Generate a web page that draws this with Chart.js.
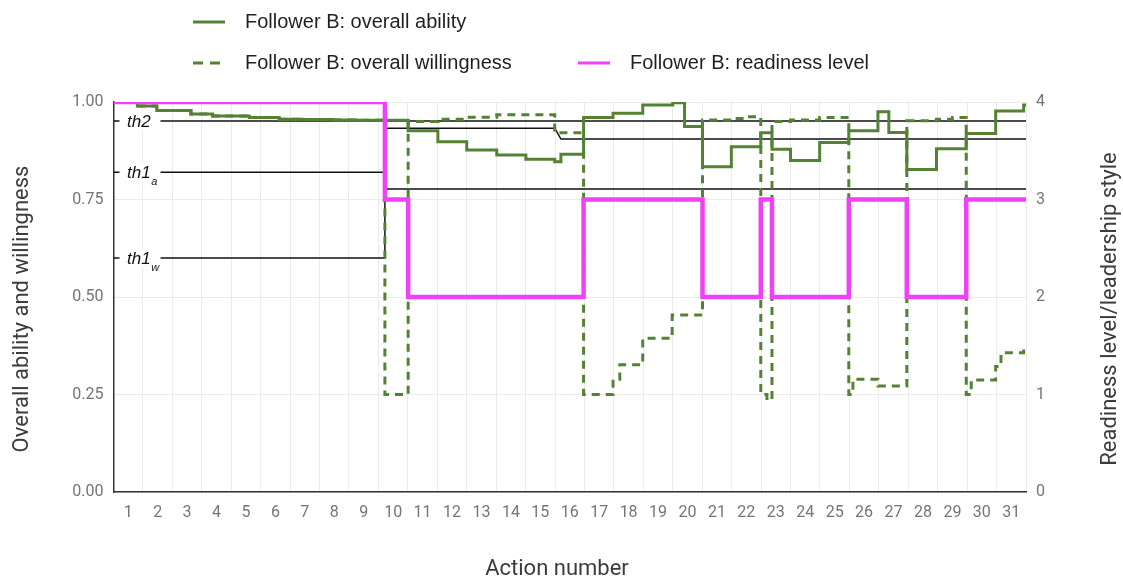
<!DOCTYPE html>
<html>
<head>
<meta charset="utf-8">
<title>Follower B: ability, willingness and readiness</title>
<script src="https://cdn.jsdelivr.net/npm/chart.js@4.4.1/dist/chart.umd.min.js"></script>
<style>
  html, body { margin: 0; padding: 0; background: #fff; }
  #wrap { width: 1123px; height: 578px; }
</style>
</head>
<body>
<div id="wrap"><canvas id="chart" width="1123" height="578"></canvas></div>
<script>
// action numbers on the x axis
const actionLabels = [1, 2, 3, 4, 5, 6, 7, 8, 9, 10, 11, 12, 13, 14, 15, 16, 17, 18, 19, 20, 21, 22, 23, 24, 25, 26, 27, 28, 29, 30, 31];
const leftTicks = [0, 0.25, 0.5, 0.75, 1];
const rightTicks = [0, 1, 2, 3, 4];

// Follower B: overall ability (x = where each step starts)
const abilityX = [0.5, 1.31, 1.97, 3.13, 3.87, 5.11, 6.13, 6.94, 7.96, 8.76, 10.51, 11.52, 12.5, 13.52, 14.51, 15.49, 15.7, 16.47, 17.47, 18.48, 19.5, 19.9, 20.51, 21.49, 22.49, 22.87, 23.5, 24.49, 25.48, 26.47, 26.84, 27.45, 28.46, 29.47, 30.47, 31.42, 31.5];
const abilityY = [1.0, 0.99, 0.978, 0.969, 0.964, 0.96, 0.956, 0.955, 0.954, 0.953, 0.926, 0.898, 0.877, 0.864, 0.853, 0.847, 0.866, 0.96, 0.971, 0.992, 0.998, 0.937, 0.834, 0.885, 0.921, 0.879, 0.85, 0.896, 0.926, 0.975, 0.922, 0.827, 0.88, 0.919, 0.977, 0.992, 0.992];

// Follower B: overall willingness
const willingnessX = [0.5, 1.31, 1.97, 3.13, 3.87, 5.11, 6.13, 6.94, 7.96, 8.76, 9.72, 10.51, 11.52, 12.5, 13.52, 15.49, 16.47, 17.47, 17.7, 18.48, 19.48, 20.51, 21.49, 22.0, 22.49, 22.7, 22.87, 23.5, 24.49, 25.48, 25.62, 26.47, 27.45, 28.46, 29.0, 29.47, 29.64, 30.47, 30.65, 31.42, 31.5];
const willingnessY = [1.0, 0.99, 0.978, 0.969, 0.964, 0.96, 0.956, 0.955, 0.954, 0.953, 0.25, 0.95, 0.956, 0.961, 0.967, 0.921, 0.25, 0.289, 0.326, 0.394, 0.454, 0.954, 0.958, 0.962, 0.25, 0.236, 0.95, 0.954, 0.96, 0.25, 0.289, 0.272, 0.952, 0.956, 0.96, 0.25, 0.287, 0.322, 0.357, 0.373, 0.373];

// Follower B: readiness level (right axis)
const readinessX = [0.5, 9.72, 10.51, 16.47, 20.51, 22.49, 22.87, 25.48, 27.45, 29.47, 31.5];
const readinessY = [4, 3, 2, 3, 2, 3, 2, 3, 2, 3, 3];

// thresholds
const th2X = [0.5, 31.5];
const th2Y = [0.951, 0.951];
const th1aX = [0.5, 9.72, 9.72, 15.49, 15.7, 31.5];
const th1aY = [0.82, 0.82, 0.933, 0.933, 0.905, 0.905];
const th1wX = [0.5, 9.72, 9.72, 31.5];
const th1wY = [0.6, 0.6, 0.777, 0.777];

const GREEN = '#548235';
const PINK = '#ef41f5';
const TICK_FONT = { family: 'Roboto', size: 16 };
const TICK_COLOR = '#757575';

function toPoints(xs, ys) {
    return xs.map((x, i) => ({ x: x, y: ys[i] }));
}

function thresholdSet(xs, ys) {
    return {
        label: '',
        data: toPoints(xs, ys),
        yAxisID: 'y',
        borderColor: '#111',
        borderWidth: 1.5,
        pointRadius: 0,
        tension: 0,
        fill: false
    };
}

// legend, axis titles and threshold labels
const overlay = {
    id: 'overlay',
    afterDatasetsDraw(chart) {
        const ctx = chart.ctx;
        const y = chart.scales.y;
        const left = chart.chartArea.left;
        const marks = [
            { v: th2Y[0], main: 'th2', sub: '' },
            { v: th1aY[0], main: 'th1', sub: 'a' },
            { v: th1wY[0], main: 'th1', sub: 'w' }
        ];
        ctx.save();
        marks.forEach(m => {
            const py = y.getPixelForValue(m.v);
            ctx.fillStyle = '#fff';
            ctx.fillRect(left + 6, py - 9, 41, 18);
            ctx.fillStyle = '#111';
            ctx.textBaseline = 'middle';
            ctx.font = 'italic 17px "Liberation Sans", Arial, sans-serif';
            ctx.fillText(m.main, left + 13.5, py + 1);
            if (m.sub) {
                const w = ctx.measureText(m.main).width;
                ctx.font = 'italic 11px "Liberation Sans", Arial, sans-serif';
                ctx.fillText(m.sub, left + 14 + w, py + 10);
            }
        });
        ctx.restore();
    },
    afterDraw(chart) {
        const ctx = chart.ctx;
        const ds = chart.data.datasets;
        const items = [
            { d: ds[1], x: 193, y: 22, dash: [] },
            { d: ds[2], x: 193, y: 63, dash: [10, 7] },
            { d: ds[0], x: 578, y: 63, dash: [] }
        ];
        ctx.save();
        items.forEach(it => {
            ctx.strokeStyle = it.d.borderColor;
            ctx.lineWidth = 3;
            ctx.setLineDash(it.dash);
            ctx.beginPath();
            ctx.moveTo(it.x, it.y);
            ctx.lineTo(it.x + 32, it.y);
            ctx.stroke();
            ctx.setLineDash([]);
            ctx.fillStyle = '#1f1f1f';
            ctx.font = '20px "Liberation Sans", Arial, sans-serif';
            ctx.textBaseline = 'middle';
            ctx.textAlign = 'left';
            ctx.fillText(it.d.label, it.x + 52, it.y);
        });

        // axis titles
        ctx.fillStyle = '#3c3c3c';
        ctx.font = '22px Roboto';
        ctx.textAlign = 'center';
        ctx.textBaseline = 'middle';
        ctx.fillText('Action number', 557, 569);
        [[22, 'Overall ability and willingness'], [1110, 'Readiness level/leadership style']].forEach(t => {
            ctx.save();
            ctx.translate(t[0], 309);
            ctx.rotate(-Math.PI / 2);
            ctx.fillText(t[1], 0, 0);
            ctx.restore();
        });
        ctx.restore();
    }
};

const ctx = document.getElementById('chart').getContext('2d');
new Chart(ctx, {
    type: 'line',
    data: {
        datasets: [
            {
                label: 'Follower B: readiness level',
                data: toPoints(readinessX, readinessY),
                yAxisID: 'y2',
                borderColor: PINK,
                borderWidth: 4.5,
                stepped: true,
                pointRadius: 0,
                fill: false
            },
            {
                label: 'Follower B: overall ability',
                data: toPoints(abilityX, abilityY),
                yAxisID: 'y',
                borderColor: GREEN,
                borderWidth: 3,
                stepped: true,
                pointRadius: 0,
                fill: false
            },
            {
                label: 'Follower B: overall willingness',
                data: toPoints(willingnessX, willingnessY),
                yAxisID: 'y',
                borderColor: GREEN,
                borderWidth: 3,
                borderDash: [8, 6],
                stepped: true,
                pointRadius: 0,
                fill: false
            },
            thresholdSet(th2X, th2Y),
            thresholdSet(th1aX, th1aY),
            thresholdSet(th1wX, th1wY)
        ]
    },
    options: {
        responsive: false,
        animation: false,
        layout: { padding: { top: 102, left: 0, right: 0, bottom: 0 } },
        plugins: {
            legend: { display: false },
            tooltip: { enabled: false }
        },
        scales: {
            x: {
                type: 'linear',
                min: 0.5,
                max: 31.5,
                afterBuildTicks: s => {
                    const t = [];
                    actionLabels.forEach(a => { t.push({ value: a - 0.5 }, { value: a }); });
                    t.push({ value: actionLabels[actionLabels.length - 1] + 0.5 });
                    s.ticks = t;
                },
                afterFit: s => { s.height = 86; },
                grid: {
                    color: c => (c.tick && actionLabels.includes(c.tick.value)) ? 'rgba(0,0,0,0)' : '#ebebeb',
                    drawTicks: false
                },
                border: { color: '#333', width: 1.5 },
                ticks: {
                    autoSkip: false,
                    maxRotation: 0,
                    padding: 11,
                    color: TICK_COLOR,
                    font: TICK_FONT,
                    callback: v => actionLabels.includes(v) ? String(v) : ''
                }
            },
            y: {
                position: 'left',
                min: 0,
                max: 1,
                afterBuildTicks: s => { s.ticks = leftTicks.map(v => ({ value: v })); },
                afterFit: s => { s.width = 113.5; },
                grid: { color: '#ebebeb', drawTicks: false },
                border: { color: '#333', width: 1.5 },
                ticks: {
                    padding: 10,
                    color: TICK_COLOR,
                    font: TICK_FONT,
                    callback: v => v.toFixed(2)
                }
            },
            y2: {
                position: 'right',
                min: 0,
                max: 4,
                afterBuildTicks: s => { s.ticks = rightTicks.map(v => ({ value: v })); },
                afterFit: s => { s.width = 97; },
                grid: { display: false, drawTicks: false },
                border: { display: false },
                ticks: {
                    padding: 10,
                    color: TICK_COLOR,
                    font: TICK_FONT
                }
            }
        }
    },
    plugins: [overlay]
});
</script>
</body>
</html>
